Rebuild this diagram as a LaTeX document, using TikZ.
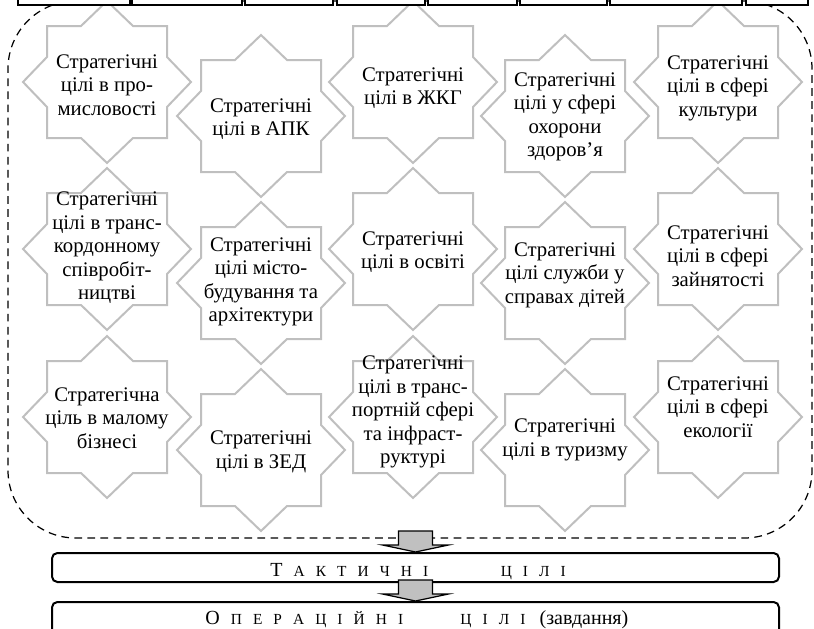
\documentclass[tikz,border=0pt]{standalone}
\usepackage{fontspec}
\setmainfont{Liberation Serif}
\definecolor{stargray}{RGB}{191,191,191}
\definecolor{arrowgray}{RGB}{192,192,192}
\newcommand{\spaced}[1]{\foreach \l in {#1}{\l\hspace{7.2pt}}}
\newcommand{\firstletter}[1]{{\fontsize{13}{13}\selectfont #1}\hspace{7.2pt}}

\tikzset{
  goal/.style={align=center, inner sep=0pt, font=\fontsize{13.5}{15.3}\selectfont},
  goalstar/.pic={
    \draw[stargray, line width=1.3pt, fill=white]
      (0,-81) -- (26,-56) -- (60,-56) -- (60,-25) -- (84,0) -- (60,25)
      -- (60,56) -- (26,56) -- (0,81) -- (-26,56) -- (-60,56) -- (-60,25)
      -- (-84,0) -- (-60,-25) -- (-60,-56) -- (-26,-56) -- cycle;
  },
  downarrow/.pic={
    \draw[fill=arrowgray, line width=0.8pt]
      (0,0) -- (-33,-7) -- (-17,-7) -- (-17,-21) -- (17,-21) -- (17,-7)
      -- (33,-7) -- cycle;
  },
  levelbox/.style={draw, fill=white, line width=1.3pt, rounded corners=3.5pt,
    minimum width={727*0.65pt}},
  leveltext/.style={inner sep=0pt, anchor=base west, font=\fontsize{10}{12}\selectfont},
}

\begin{document}
\begin{tikzpicture}[x=0.65pt, y=-0.65pt]

  \clip (0,0) rectangle (814,629);

  % dashed frame round the strategic goals
  \node[draw, dashed, line width=0.8pt, dash pattern=on 5pt off 3.5pt,
        rounded corners=44pt, minimum width={804*0.65pt},
        minimum height={537*0.65pt}] (area) at (410,269.5) {};

  % stars
  \foreach \p in {(107,82),(413,82),(718,82),(261,116),(565,116),
                  (107,249),(413,249),(718,249),(261,283),(565,283),
                  (107,417),(413,417),(718,417),(261,450),(565,450)}
    \pic at \p {goalstar};

  \node[goal] (g1) at (107,85) {Стратегічні\\цілі в про-\\мисловості};
  \node[goal] (g2) at (261,119) {Стратегічні\\цілі в АПК};
  \node[goal] (g3) at (413,88) {Стратегічні\\цілі в ЖКГ};
  \node[goal] (g4) at (565,117) {Стратегічні\\цілі у сфері\\охорони\\здоров’я};
  \node[goal] (g5) at (718,88) {Стратегічні\\цілі в сфері\\культури};

  \node[goal] (g6) at (107,248) {Стратегічні\\цілі в транс-\\кордонному\\співробіт-\\ництві};
  \node[goal] (g7) at (261,282) {Стратегічні\\цілі місто-\\будування та\\архітектури};
  \node[goal] (g8) at (413,252) {Стратегічні\\цілі в освіті};
  \node[goal] (g9) at (565,275) {Стратегічні\\цілі служби у\\справах дітей};
  \node[goal] (g10) at (718,256) {Стратегічні\\цілі в сфері\\зайнятості};

  \node[goal] (g11) at (107,418) {Стратегічна\\ціль в малому\\бізнесі};
  \node[goal] (g12) at (261,452) {Стратегічні\\цілі в ЗЕД};
  \node[goal] (g13) at (413,412) {Стратегічні\\цілі в транс-\\портній сфері\\та інфраст-\\руктурі};
  \node[goal] (g14) at (565,440) {Стратегічні\\цілі в туризму};
  \node[goal] (g15) at (718,407) {Стратегічні\\цілі в сфері\\екології};

  % boxes along the top edge
  \foreach \a/\b in {18/130,132/242,245/333,337/425,428/517,520/607,610/742,746/808}
    \draw[fill=white, line width=1.3pt] (\a,-30) rectangle (\b,5);

  % lower levels
  \node[levelbox, minimum height={29*0.65pt}] (tact) at (415.5,567.5) {};
  \node[leveltext] (tacttxt) at (270,576)
    {\firstletter{Т}\spaced{А,К,Т,И,Ч,Н,І}\hspace{40pt}\spaced{Ц,І,Л,І}};

  \node[levelbox, minimum height={44*0.65pt}] (oper) at (415.5,624) {};
  \node[leveltext] (opertxt) at (205,624)
    {\firstletter{О}\spaced{П,Е,Р,А,Ц,І,Й,Н,І}\hspace{30pt}\spaced{Ц,І,Л,І}%
     \hspace{2pt}{\fontsize{13}{13}\selectfont(завдання)}};

  \pic at (tact.north) {downarrow};
  \pic at (oper.north) {downarrow};

\end{tikzpicture}
\end{document}
